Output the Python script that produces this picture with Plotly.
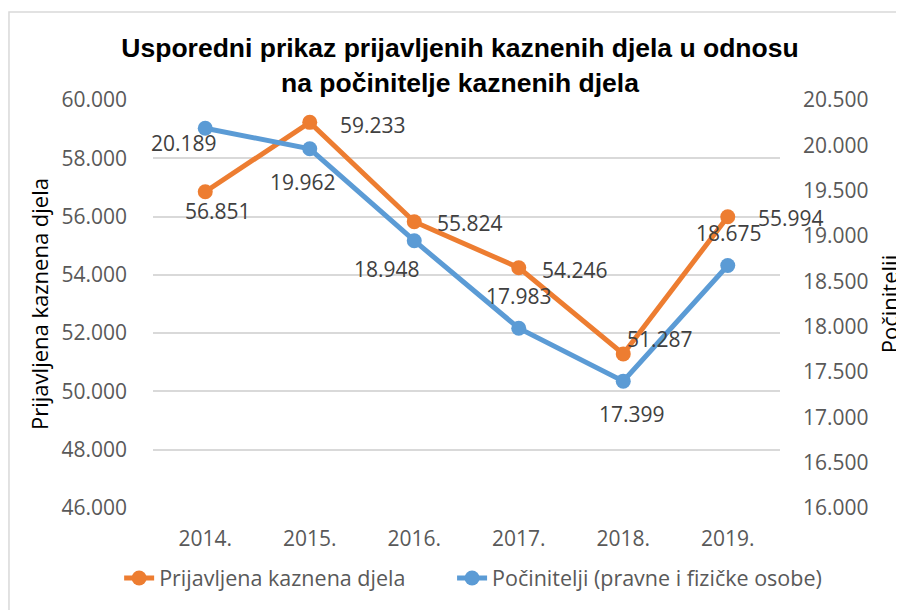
import plotly.graph_objects as go

years = [2014, 2015, 2016, 2017, 2018, 2019]
year_labels = ["2014.", "2015.", "2016.", "2017.", "2018.", "2019."]
djela = [56851, 59233, 55824, 54246, 51287, 55994]
pocinitelji = [20189, 19962, 18948, 17983, 17399, 18675]
left_ticks = list(range(46000, 60001, 2000))
right_ticks = list(range(16000, 20501, 500))

# label offsets (px, x right / y up)
djela_off = [(13, -19), (63, -3), (56, -1), (56, -2), (37, 15), (63, -1)]
poc_off = [(-21, -15), (-7, -33), (-27, -28), (0, 32), (9, -33), (1, 32)]

ORANGE = "#ED7D31"
BLUE = "#5B9BD5"
GRID = "#D9D9D9"
TXT = "#595959"
FONT = "Open Sans"


def fmt(v):
    return f"{v:,}".replace(",", ".")


fig = go.Figure()
fig.add_trace(go.Scatter(
    x=years, y=djela, name="Prijavljena kaznena djela", mode="lines+markers",
    line=dict(color=ORANGE, width=5), marker=dict(size=15, color=ORANGE),
    yaxis="y", legend="legend", showlegend=True))
fig.add_trace(go.Scatter(
    x=years, y=pocinitelji, name="Počinitelji (pravne i fizičke osobe)",
    mode="lines+markers",
    line=dict(color=BLUE, width=5), marker=dict(size=15, color=BLUE),
    yaxis="y2", legend="legend2", showlegend=True))

ann = []
for x, v, (dx, dy) in zip(years, djela, djela_off):
    ann.append(dict(x=x, y=v, xref="x", yref="y", text=fmt(v), showarrow=False,
                    xshift=dx, yshift=dy, font=dict(family=FONT, size=21, color="#404040")))
for x, v, (dx, dy) in zip(years, pocinitelji, poc_off):
    ann.append(dict(x=x, y=v, xref="x", yref="y2", text=fmt(v), showarrow=False,
                    xshift=dx, yshift=dy, font=dict(family=FONT, size=21, color="#404040")))

legend_style = dict(orientation="h", xref="paper", xanchor="left",
                    yref="paper", y=-0.1716, yanchor="middle",
                    font=dict(family=FONT, size=21.5, color=TXT),
                    bgcolor="rgba(0,0,0,0)")

fig.update_layout(
    width=904, height=610,
    showlegend=True,
    margin=dict(l=145, r=132, t=92, b=110, autoexpand=False),
    paper_bgcolor="white", plot_bgcolor="white",
    separators=",.",
    font=dict(family=FONT, size=21, color=TXT),
    title=dict(
        text="<b>Usporedni prikaz prijavljenih kaznenih djela u odnosu<br>na počinitelje kaznenih djela</b>",
        x=0.500, xanchor="center", xref="container",
        y=0.919, yanchor="top", yref="container",
        font=dict(family="Liberation Sans", size=26.5, color="black")),
    xaxis=dict(range=[2013.5, 2019.5], tickvals=years, ticktext=year_labels,
               showgrid=False, showline=False, ticks="", zeroline=False,
               ticklabelstandoff=16, automargin=False,
               tickfont=dict(family=FONT, size=21, color=TXT)),
    yaxis=dict(range=[46000, 60000], tickvals=left_ticks, tickformat=",d",
               showgrid=True, gridcolor=GRID, gridwidth=1.5, zeroline=False,
               showline=False, ticks="", ticklabelstandoff=25, automargin=False,
               tickfont=dict(family=FONT, size=21, color=TXT),
               title=dict(text="Prijavljena kaznena djela",
                          font=dict(family=FONT, size=22, color="black"),
                          standoff=6)),
    yaxis2=dict(range=[16000, 20500], tickvals=right_ticks, tickformat=",d",
                overlaying="y", side="right", showgrid=False, zeroline=False,
                showline=False, ticks="", ticklabelstandoff=22, automargin=False,
                tickfont=dict(family=FONT, size=21, color=TXT),
                title=dict(text="Počinitelji",
                           font=dict(family=FONT, size=22, color="black"),
                           standoff=15)),
    legend=dict(x=-0.054, **legend_style),
    legend2=dict(x=0.477, **legend_style),
    annotations=ann,
    shapes=[dict(type="rect", xref="paper", yref="paper",
                 x0=-0.2297, x1=1.4, y0=-0.4, y1=1.2157,
                 line=dict(color=GRID, width=1.5), fillcolor="rgba(0,0,0,0)",
                 layer="below")],
)

fig.write_html("out.html")
